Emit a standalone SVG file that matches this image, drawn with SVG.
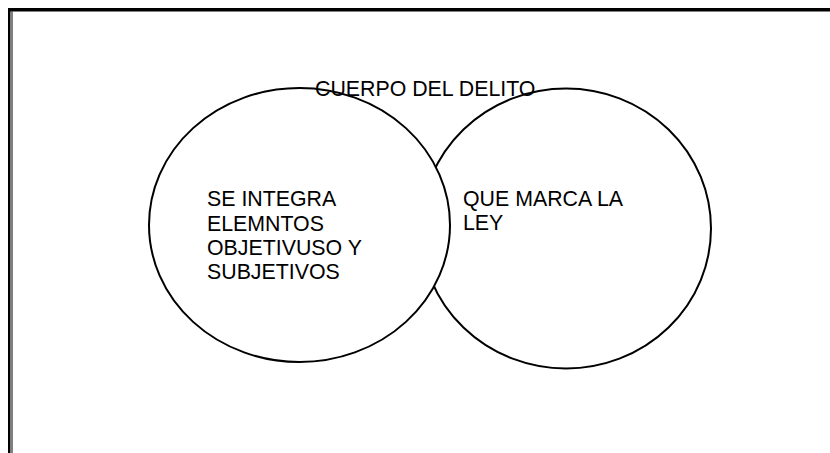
<svg xmlns="http://www.w3.org/2000/svg" width="830" height="453" viewBox="0 0 830 453">
<style>
.frame{fill:#000}
.ell{fill:#fff;stroke:#000;stroke-width:2}
.t{font-family:"Liberation Sans",Arial,sans-serif;font-size:21.33px;fill:#000}
</style>
<rect width="830" height="453" fill="#fff"/>
<g id="frame">
<rect class="frame" x="8" y="8" width="822" height="3.5"/>
<rect class="frame" x="8" y="8" width="2.5" height="445"/>
<rect class="frame" x="11.5" y="11.5" width="1" height="441.5"/>
</g>
<g id="ley">
<ellipse class="ell" cx="566" cy="228.5" rx="145" ry="140"/>
<text class="t" x="463" y="206">QUE MARCA LA</text>
<text class="t" x="463" y="230">LEY</text>
</g>
<g id="integra">
<ellipse class="ell" cx="299.5" cy="225" rx="150.5" ry="137"/>
<text class="t" x="207" y="206">SE INTEGRA</text>
<text class="t" x="207" y="230.5">ELEMNTOS</text>
<text class="t" x="207" y="254.5">OBJETIVUSO Y</text>
<text class="t" x="207" y="278.5">SUBJETIVOS</text>
</g>
<g id="titulo">
<text class="t" x="315" y="96">CUERPO DEL DELITO</text>
</g>
<g id="connectors"/>
</svg>
